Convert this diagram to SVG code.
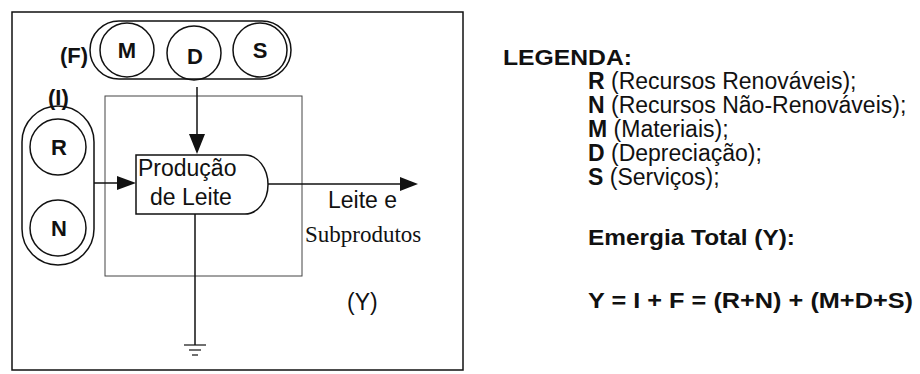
<svg xmlns="http://www.w3.org/2000/svg" width="920" height="374" viewBox="0 0 920 374">
<defs>
<style>
.ln{fill:none;stroke:#111;stroke-width:1.5}
.thin{fill:none;stroke:#444;stroke-width:1}
.t{font-family:"Liberation Sans",Arial,sans-serif;font-size:23px;fill:#111}
.b{font-family:"Liberation Sans",Arial,sans-serif;font-size:22px;font-weight:bold;fill:#111}
.s{font-family:"Liberation Serif","Times New Roman",serif;font-size:23px;fill:#111}
.ah{fill:#111;stroke:none}
.gnd{stroke:#111;stroke-width:1.2}
</style>
</defs>
<rect width="920" height="374" fill="#fff"/>
<rect id="frame" x="12" y="12" width="451" height="358" class="ln"/>
<g id="system">
<rect x="105" y="96" width="197" height="180" class="thin"/>
<text x="347" y="310" class="t">(Y)</text>
</g>
<g id="F">
<rect x="90" y="21" width="201" height="58" rx="29" ry="29" class="ln"/>
<text x="60" y="63" class="b">(F)</text>
<g id="M"><circle cx="127" cy="50" r="27" class="ln"/><text x="127" y="58" text-anchor="middle" class="b">M</text></g>
<g id="D"><circle cx="194" cy="53" r="27" class="ln"/><text x="195" y="64" text-anchor="middle" class="b">D</text></g>
<g id="S"><circle cx="260" cy="50" r="27" class="ln"/><text x="260" y="58" text-anchor="middle" class="b">S</text></g>
</g>
<g id="I">
<rect x="22" y="106" width="72" height="159" rx="36" ry="36" class="ln"/>
<text x="48" y="105" class="b">(I)</text>
<g id="R"><circle cx="58" cy="147" r="28" class="ln"/><text x="59" y="155" text-anchor="middle" class="b">R</text></g>
<g id="N"><circle cx="58" cy="228" r="28" class="ln"/><text x="59" y="236" text-anchor="middle" class="b">N</text></g>
</g>
<g id="producao">
<path d="M136,155 H245 A23,29.5 0 0 1 245,214 H136 Z" class="ln" fill="#fff"/>
<text x="138" y="176" class="t">Produção</text>
<text x="150" y="205" class="t">de Leite</text>
</g>
<g id="connectors">
<line x1="197" y1="87" x2="197" y2="136" class="ln"/>
<polygon points="189,134 205,134 197,154" class="ah"/>
<line x1="94" y1="183" x2="120" y2="183" class="ln"/>
<polygon points="117,176 117,190 136,183" class="ah"/>
<line x1="268" y1="184" x2="402" y2="184" class="ln"/>
<polygon points="400,177 400,191 418,184" class="ah"/>
<line x1="195" y1="214" x2="195" y2="345" class="ln"/>
<line x1="184" y1="345" x2="206" y2="345" class="gnd"/>
<line x1="189" y1="350" x2="201" y2="350" class="gnd"/>
<line x1="192" y1="355" x2="198" y2="355" class="gnd"/>
</g>
<g id="output-label">
<text x="328" y="208" class="t">Leite e</text>
<text x="305" y="242" class="s">Subprodutos</text>
</g>
<g id="legend">
<text x="503" y="65" class="b" textLength="129" lengthAdjust="spacingAndGlyphs">LEGENDA:</text>
<text x="588" y="89" class="t"><tspan font-weight="bold">R</tspan> (Recursos Renováveis);</text>
<text x="588" y="113" class="t"><tspan font-weight="bold">N</tspan> (Recursos Não-Renováveis);</text>
<text x="588" y="137" class="t"><tspan font-weight="bold">M</tspan> (Materiais);</text>
<text x="588" y="161" class="t"><tspan font-weight="bold">D</tspan> (Depreciação);</text>
<text x="588" y="185" class="t"><tspan font-weight="bold">S</tspan> (Serviços);</text>
<text x="588" y="245" class="b" textLength="207" lengthAdjust="spacingAndGlyphs">Emergia Total (Y):</text>
<text x="588" y="308" class="b" textLength="325" lengthAdjust="spacingAndGlyphs">Y = I + F = (R+N) + (M+D+S)</text>
</g>
</svg>
